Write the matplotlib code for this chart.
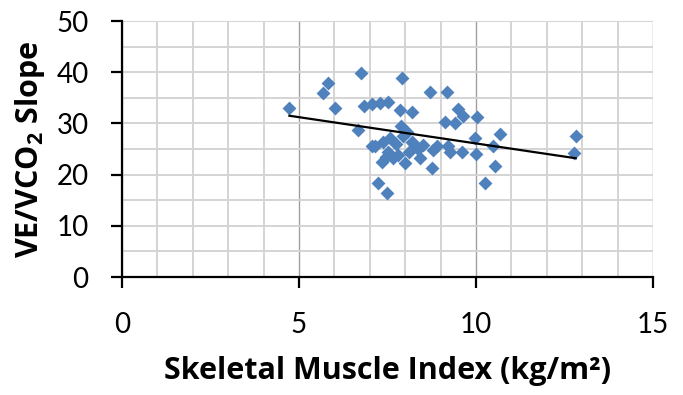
import numpy as np
import matplotlib
matplotlib.use('Agg')
import matplotlib.pyplot as plt
from matplotlib.ticker import MultipleLocator

plt.rcParams['font.family'] = ['Lato', 'DejaVu Sans']
plt.rcParams['mathtext.fontset'] = 'custom'
plt.rcParams['mathtext.rm'] = 'Open Sans'
plt.rcParams['mathtext.bf'] = 'Open Sans:bold'

# skeletal muscle index (kg/m2) and VE/VCO2 slope
smi = [4.73, 5.69, 5.83, 6.02, 6.74, 6.68, 6.84, 7.05, 7.29, 7.52,
       7.90, 7.85, 8.18, 8.70, 9.17, 9.50, 9.64, 10.02, 9.12, 9.41,
       7.87, 8.04, 10.68, 9.97, 10.49, 10.00, 10.54, 10.25, 8.75, 8.80,
       9.22, 9.60, 8.42, 8.00, 8.51, 8.23, 12.82, 12.78, 7.05, 7.15,
       7.38, 7.57, 7.52, 7.34, 7.66, 7.80, 8.18, 8.37, 8.89, 7.24,
       7.48, 9.27, 7.75, 7.95, 8.10, 7.45]
slope = [33.1, 36.0, 37.9, 33.1, 39.8, 28.7, 33.4, 33.8, 34.0, 34.2,
         38.8, 32.6, 32.2, 36.1, 36.1, 32.9, 31.5, 31.3, 30.2, 30.0,
         29.4, 28.4, 27.9, 27.1, 25.6, 24.0, 21.7, 18.4, 21.2, 24.8,
         25.6, 24.5, 23.2, 22.2, 25.7, 26.1, 27.5, 24.2, 25.5, 25.5,
         26.4, 27.1, 24.5, 22.5, 23.2, 23.8, 26.4, 25.1, 25.5, 18.3,
         16.5, 24.5, 26.0, 27.6, 24.5, 23.5]

# linear trend line coefficients
trend_slope = -1.026
trend_intercept = 36.35

fig = plt.figure(figsize=(6.83, 3.95), dpi=100)
ax = fig.add_axes([0.1786, 0.2987, 0.7774, 0.6481])

ax.set_xlim(0, 15)
ax.set_ylim(0, 50)
ax.xaxis.set_major_locator(MultipleLocator(5))
ax.xaxis.set_minor_locator(MultipleLocator(1))
ax.yaxis.set_major_locator(MultipleLocator(10))
ax.yaxis.set_minor_locator(MultipleLocator(5))

ax.grid(which='minor', color='#d4d4d4', linewidth=1.4)
ax.grid(which='major', axis='y', color='#d4d4d4', linewidth=1.4)
ax.grid(which='major', axis='x', color='#a0a0a0', linewidth=1.0)
ax.set_axisbelow(True)

ax.scatter(smi, slope, marker='D', s=50, color='#4f81bd', zorder=3, linewidths=0)

xs = np.array([min(smi), max(smi)])
ax.plot(xs, trend_slope * xs + trend_intercept, color='black', linewidth=1.6, zorder=4)

for side in ['top', 'right']:
    ax.spines[side].set_visible(False)
for side in ['left', 'bottom']:
    ax.spines[side].set_linewidth(1.6)

ax.tick_params(which='major', direction='out', length=8, width=1.6, labelsize=20)
ax.tick_params(which='minor', length=0)
ax.tick_params(axis='x', pad=17)
ax.tick_params(axis='y', pad=16)

ax.set_xlabel('Skeletal Muscle Index (kg/m²)', fontsize=22, fontweight='bold',
              family=['Open Sans', 'DejaVu Sans'], labelpad=13)
ax.set_ylabel(r'VE/VCO$_\mathbf{2}$ Slope', fontsize=22, fontweight='bold',
              family=['Open Sans', 'DejaVu Sans'], labelpad=7)

fig.savefig('out.png', dpi=100)
